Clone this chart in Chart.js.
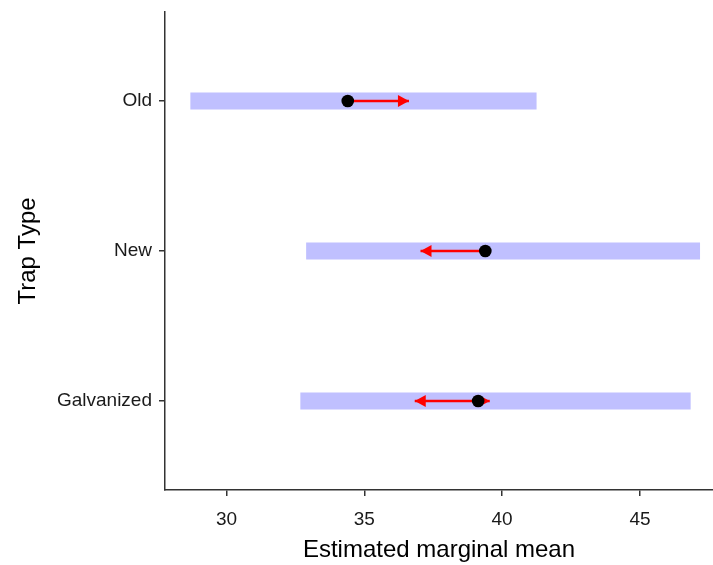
<!DOCTYPE html>
<html><head><meta charset="utf-8">
<script src="https://cdn.jsdelivr.net/npm/chart.js@4/dist/chart.umd.min.js"></script>
<style>html,body{margin:0;padding:0;background:#fff}#wrap{width:713px;height:565px;position:relative}</style>
</head><body><div id="wrap"><canvas id="c"></canvas></div>
<script>
const categories = ['Galvanized', 'New', 'Old'];
const categoryPos = [1, 2, 3];
const emmeans = [39.13, 39.39, 34.40];
const ciLower = [32.68, 32.89, 28.69];
const ciUpper = [46.84, 47.18, 41.25];
const leftArrowTip = [36.83, 37.04, null];
const rightArrowTip = [39.55, null, 36.62];
const xTicks = [30, 35, 40, 45];
const xRange = [27.77, 47.65];
const yRange = [0.407, 3.593];

const FONT = "'Liberation Sans', Arial, Helvetica, sans-serif";
const AXIS = '#333333';

const datasets = [];
categories.forEach((c, i) => {
  datasets.push({
    data: [{x: ciLower[i], y: categoryPos[i]}, {x: ciUpper[i], y: categoryPos[i]}],
    showLine: true, borderColor: '#C0C0FF', borderWidth: 17, borderCapStyle: 'butt',
    pointRadius: 0, order: 2
  });
});
categories.forEach((c, i) => {
  [leftArrowTip[i], rightArrowTip[i]].forEach(tip => {
    if (tip === null) return;
    datasets.push({
      data: [{x: emmeans[i], y: categoryPos[i]}, {x: tip, y: categoryPos[i]}],
      showLine: true, borderColor: '#FF0000', borderWidth: 2.5, borderCapStyle: 'butt',
      pointRadius: 0, order: 1, arrow: true
    });
  });
});
datasets.push({
  data: categories.map((c, i) => ({x: emmeans[i], y: categoryPos[i]})),
  showLine: false, pointRadius: 6.3, pointBackgroundColor: '#000', pointBorderColor: '#000',
  pointBorderWidth: 0, order: 0
});

const arrowPlugin = {
  id: 'arrowheads',
  afterDatasetDraw(chart, args) {
    const ds = chart.data.datasets[args.index];
    if (!ds.arrow) return;
    const pts = args.meta.data;
    const p0 = pts[0], p1 = pts[1];
    const dir = Math.sign(p1.x - p0.x) || 1;
    const ctx = chart.ctx, L = 11, W = 6;
    ctx.save();
    ctx.fillStyle = ds.borderColor;
    ctx.beginPath();
    ctx.moveTo(p1.x, p1.y);
    ctx.lineTo(p1.x - dir * L, p1.y - W);
    ctx.lineTo(p1.x - dir * L, p1.y + W);
    ctx.closePath();
    ctx.fill();
    ctx.restore();
  }
};

const gridOpts = {drawOnChartArea: false, drawTicks: true, tickLength: 6, color: AXIS, lineWidth: 1.5};
const borderOpts = {display: true, color: AXIS, width: 1.5};
const noPad = s => { s.paddingTop = 0; s.paddingBottom = 0; s.paddingLeft = 0; s.paddingRight = 0; };

new Chart(document.getElementById('c'), {
  type: 'scatter',
  data: {datasets},
  plugins: [arrowPlugin],
  options: {
    responsive: true, maintainAspectRatio: false, animation: false, devicePixelRatio: 1,
    events: [],
    layout: {autoPadding: false, padding: {top: 12, right: 0, left: 0, bottom: 0}},
    plugins: {legend: {display: false}, tooltip: {enabled: false}},
    scales: {
      x: {
        type: 'linear', min: xRange[0], max: xRange[1],
        afterBuildTicks: s => { s.ticks = xTicks.map(v => ({value: v})); },
        afterFit: s => { s.height = 75; noPad(s); },
        grid: gridOpts, border: borderOpts,
        ticks: {color: '#1a1a1a', font: {size: 19, family: FONT}, padding: 12},
        title: {display: true, text: 'Estimated marginal mean', color: '#000',
          font: {size: 24, family: FONT}, padding: {top: 0, bottom: 0}}
      },
      y: {
        type: 'linear', min: yRange[0], max: yRange[1],
        afterBuildTicks: s => { s.ticks = categoryPos.map(v => ({value: v})); },
        afterFit: s => { s.width = 165; noPad(s); },
        grid: gridOpts, border: borderOpts,
        ticks: {color: '#1a1a1a', font: {size: 19, family: FONT}, padding: 7,
          callback: v => categories[categoryPos.indexOf(Math.round(v))]},
        title: {display: true, text: 'Trap Type', color: '#000',
          font: {size: 24, family: FONT}, padding: {top: 14, bottom: 0}}
      }
    }
  }
});
</script></body></html>
